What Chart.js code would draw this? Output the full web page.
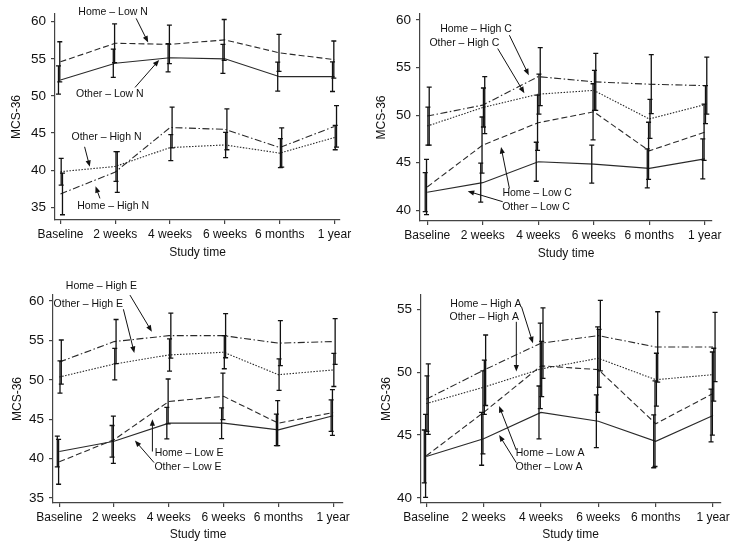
<!DOCTYPE html>
<html>
<head>
<meta charset="utf-8">
<script src="https://cdn.jsdelivr.net/npm/chart.js@4"></script>
<style>
  body { margin: 0; background: #fff; }
  #wrap { position: relative; width: 733px; height: 544px; }
  canvas { position: absolute; }
</style>
</head>
<body>
<div id="wrap">
  <canvas id="panelN" width="366" height="272" style="left:0;top:0"></canvas>
  <canvas id="panelC" width="367" height="272" style="left:366px;top:0"></canvas>
  <canvas id="panelE" width="366" height="272" style="left:0;top:272px"></canvas>
  <canvas id="panelA" width="367" height="272" style="left:366px;top:272px"></canvas>
</div>
<script>
// time points on the x axis
const timePoints = ['Baseline', '2 weeks', '4 weeks', '6 weeks', '6 months', '1 year'];

// y tick labels for each panel
const ticksN = [35, 40, 45, 50, 55, 60];
const ticksC = [40, 45, 50, 55, 60];
const ticksE = [35, 40, 45, 50, 55, 60];
const ticksA = [40, 45, 50, 55];

// N panel (means and half error bars)
const homeLowN = [54.6, 57.1, 56.95, 57.55, 55.8, 54.9];
const errHomeLowN = [2.7, 2.6, 2.6, 2.75, 2.5, 2.5];
const otherLowN = [52.15, 54.4, 55.15, 55.0, 52.6, 52.6];
const errOtherLowN = [1.9, 1.9, 1.9, 1.95, 1.95, 2.0];
const otherHighN = [39.8, 40.5, 43.05, 43.4, 42.3, 44.4];
const errOtherHighN = [1.8, 2.0, 1.75, 1.7, 1.95, 1.65];
const homeHighN = [36.8, 39.75, 45.75, 45.5, 43.05, 45.9];
const errHomeHighN = [2.8, 2.75, 2.75, 2.75, 2.65, 2.8];

// C panel
const homeHighC = [49.9, 51.05, 54.05, 53.5, 53.25, 53.1];
const errHomeHighC = [3.05, 3.0, 3.05, 3.0, 3.1, 3.0];
const otherHighC = [48.85, 50.8, 52.2, 52.6, 49.6, 51.1];
const errOtherHighC = [2.0, 2.05, 2.1, 2.1, 2.05, 2.0];
const homeLowC = [42.45, 46.85, 49.2, 50.35, 46.25, 48.2];
const errHomeLowC = [2.9, 2.95, 2.9, 2.95, 3.0, 2.95];
const otherLowC = [41.9, 42.9, 45.1, 44.85, 44.4, 45.4];
const errOtherLowC = [2.05, 2.05, 2.05, 2.0, 2.05, 2.1];

// E panel
const homeHighE = [52.25, 54.85, 55.6, 55.6, 54.65, 54.85];
const errHomeHighE = [2.8, 2.8, 2.85, 2.8, 2.85, 2.9];
const otherHighE = [50.35, 52.0, 53.15, 53.5, 50.65, 51.25];
const errOtherHighE = [2.05, 2.0, 2.05, 2.1, 2.0, 2.1];
const homeLowE = [39.6, 42.4, 47.25, 47.9, 44.5, 45.85];
const errHomeLowE = [2.85, 3.0, 2.85, 2.95, 2.85, 2.9];
const otherLowE = [40.9, 42.2, 44.5, 44.5, 43.65, 45.45];
const errOtherLowE = [1.95, 2.0, 2.0, 1.95, 2.0, 2.0];

// A panel
const homeHighA = [47.85, 50.15, 52.3, 52.9, 52.0, 52.0];
const errHomeHighA = [2.8, 2.8, 2.8, 2.8, 2.8, 2.75];
const otherHighA = [47.5, 48.8, 50.25, 51.1, 49.4, 49.8];
const errOtherHighA = [2.2, 2.15, 2.2, 2.3, 2.1, 2.1];
const homeLowA = [43.35, 46.8, 50.5, 50.2, 45.9, 48.3];
const errHomeLowA = [3.3, 3.3, 3.4, 3.4, 3.4, 3.3];
const otherLowA = [43.3, 44.7, 46.8, 46.1, 44.5, 46.55];
const errOtherLowA = [2.1, 2.1, 2.1, 2.1, 2.1, 2.1];

const FONT = '"Liberation Sans", Arial, sans-serif';
const INK = '#111';

// line styles
const SOLID = { dash: [], shift: -2 };
const DASHED = { dash: [6, 3], shift: -0.7 };
const DOTTED = { dash: [1.5, 1.5], shift: 0.7 };
const DASHDOT = { dash: [7, 2.5, 1.5, 2.5], shift: 2 };

function series(label, values, errs, style) {
  return {
    label: label,
    data: values.map((v, i) => ({ x: i, y: v })),
    errors: errs,
    errShift: style.shift,
    borderColor: '#2a2a2a',
    borderWidth: 1.1,
    borderDash: style.dash,
    pointRadius: 0,
    tension: 0,
    fill: false
  };
}

// error bars drawn through the chart scales
const errorBars = {
  id: 'errorBars',
  afterDatasetsDraw(chart) {
    const { ctx, scales: { x, y } } = chart;
    ctx.save();
    ctx.strokeStyle = INK;
    ctx.lineWidth = 1.3;
    chart.data.datasets.forEach(ds => {
      ds.data.forEach((p, i) => {
        const e = ds.errors[i];
        const px = x.getPixelForValue(p.x) + ds.errShift;
        const top = y.getPixelForValue(p.y + e);
        const bot = y.getPixelForValue(p.y - e);
        ctx.beginPath();
        ctx.moveTo(px, top); ctx.lineTo(px, bot);
        ctx.moveTo(px - 2.5, top); ctx.lineTo(px + 2.5, top);
        ctx.moveTo(px - 2.5, bot); ctx.lineTo(px + 2.5, bot);
        ctx.stroke();
      });
    });
    ctx.restore();
  }
};

// labels with arrows, positioned in data units
const notes = {
  id: 'notes',
  afterDraw(chart, args, opts) {
    const { ctx, scales: { x, y } } = chart;
    ctx.save();
    ctx.font = '10.5px ' + FONT;
    ctx.fillStyle = INK;
    ctx.strokeStyle = INK;
    ctx.lineWidth = 1;
    ctx.textAlign = 'center';
    ctx.textBaseline = 'middle';
    (opts.items || []).forEach(n => {
      ctx.fillText(n.text, x.getPixelForValue(n.x), y.getPixelForValue(n.y));
      const x1 = x.getPixelForValue(n.from[0]), y1 = y.getPixelForValue(n.from[1]);
      const x2 = x.getPixelForValue(n.to[0]), y2 = y.getPixelForValue(n.to[1]);
      const a = Math.atan2(y2 - y1, x2 - x1);
      ctx.beginPath();
      ctx.moveTo(x1, y1);
      ctx.lineTo(x2 - 5 * Math.cos(a), y2 - 5 * Math.sin(a));
      ctx.stroke();
      ctx.beginPath();
      ctx.moveTo(x2, y2);
      ctx.lineTo(x2 - 6.5 * Math.cos(a) + 2.6 * Math.sin(a), y2 - 6.5 * Math.sin(a) - 2.6 * Math.cos(a));
      ctx.lineTo(x2 - 6.5 * Math.cos(a) - 2.6 * Math.sin(a), y2 - 6.5 * Math.sin(a) + 2.6 * Math.cos(a));
      ctx.closePath();
      ctx.fill();
    });
    ctx.restore();
  }
};

function makePanel(id, cfg) {
  new Chart(document.getElementById(id), {
    type: 'line',
    data: { datasets: cfg.datasets },
    plugins: [errorBars, notes],
    options: {
      responsive: false,
      animation: false,
      layout: { padding: cfg.padding },
      scales: {
        x: {
          type: 'linear',
          min: cfg.xRange[0],
          max: cfg.xRange[1],
          afterBuildTicks: s => { s.ticks = timePoints.map((t, i) => ({ value: i })); },
          afterFit: s => { s.height = cfg.xHeight; },
          ticks: {
            callback: v => timePoints[v],
            color: INK,
            font: { size: 12, family: FONT },
            padding: 3,
            maxRotation: 0,
            autoSkip: false
          },
          grid: { drawOnChartArea: false, tickLength: 4, color: '#444', lineWidth: 1.2 },
          border: { color: '#444', width: 1.2 },
          title: {
            display: true,
            text: 'Study time',
            color: INK,
            font: { size: 12, family: FONT },
            padding: { top: 0, bottom: cfg.xTitlePad }
          }
        },
        y: {
          min: cfg.yRange[0],
          max: cfg.yRange[1],
          afterBuildTicks: s => { s.ticks = cfg.yTicks.map(v => ({ value: v })); },
          afterFit: s => { s.width = cfg.yWidth; },
          ticks: { color: INK, font: { size: 13.5, family: FONT }, padding: 5 },
          grid: { drawOnChartArea: false, tickLength: 4, color: '#444', lineWidth: 1.2 },
          border: { color: '#444', width: 1.2 },
          title: {
            display: true,
            text: 'MCS-36',
            color: INK,
            font: { size: 12, family: FONT },
            padding: { top: cfg.yTitlePad, bottom: 0 }
          }
        }
      },
      plugins: {
        legend: { display: false },
        tooltip: { enabled: false },
        notes: { items: cfg.notes }
      }
    }
  });
}

makePanel('panelN', {
  padding: { left: 0, top: 14, right: 26, bottom: 0 },
  yWidth: 55, xHeight: 52,
  xRange: [-0.1, 5.1], yRange: [33.29, 61.04], yTicks: ticksN,
  xTitlePad: 11.8, yTitlePad: 9.5,
  datasets: [
    series('Home – Low N', homeLowN, errHomeLowN, DASHED),
    series('Other – Low N', otherLowN, errOtherLowN, SOLID),
    series('Other – High N', otherHighN, errOtherHighN, DOTTED),
    series('Home – High N', homeHighN, errHomeHighN, DASHDOT)
  ],
  notes: [
    { text: 'Home – Low N', x: 0.96, y: 61.35, from: [1.38, 60.45], to: [1.6, 57.2] },
    { text: 'Other – Low N', x: 0.9, y: 50.2, from: [1.36, 51.15], to: [1.8, 54.85] },
    { text: 'Other – High N', x: 0.84, y: 44.5, from: [0.44, 43.15], to: [0.535, 40.45] },
    { text: 'Home – High N', x: 0.96, y: 35.15, from: [0.72, 36.2], to: [0.64, 37.85] }
  ]
});

makePanel('panelC', {
  padding: { left: 0, top: 14, right: 21, bottom: 0 },
  yWidth: 54, xHeight: 51,
  xRange: [-0.13, 5.13], yRange: [38.87, 60.63], yTicks: ticksC,
  xTitlePad: 11.5, yTitlePad: 8.8,
  datasets: [
    series('Home – High C', homeHighC, errHomeHighC, DASHDOT),
    series('Other – High C', otherHighC, errOtherHighC, DOTTED),
    series('Home – Low C', homeLowC, errHomeLowC, DASHED),
    series('Other – Low C', otherLowC, errOtherLowC, SOLID)
  ],
  notes: [
    { text: 'Home – High C', x: 0.88, y: 59.0, from: [1.48, 58.4], to: [1.83, 54.2] },
    { text: 'Other – High C', x: 0.67, y: 57.55, from: [1.27, 57.0], to: [1.75, 52.3] },
    { text: 'Home – Low C', x: 1.98, y: 41.8, from: [1.48, 42.3], to: [1.33, 46.65] },
    { text: 'Other – Low C', x: 1.96, y: 40.35, from: [1.36, 40.9], to: [0.73, 42.0] }
  ]
});

makePanel('panelE', {
  padding: { left: 0, top: 23, right: 23, bottom: 0 },
  yWidth: 53, xHeight: 41,
  xRange: [-0.115, 5.18], yRange: [34.37, 60.76], yTicks: ticksE,
  xTitlePad: 1.8, yTitlePad: 10,
  datasets: [
    series('Home – High E', homeHighE, errHomeHighE, DASHDOT),
    series('Other – High E', otherHighE, errOtherHighE, DOTTED),
    series('Home – Low E', homeLowE, errHomeLowE, DASHED),
    series('Other – Low E', otherLowE, errOtherLowE, SOLID)
  ],
  notes: [
    { text: 'Home – High E', x: 0.77, y: 61.9, from: [1.29, 60.75], to: [1.69, 56.1] },
    { text: 'Other – High E', x: 0.53, y: 59.6, from: [1.17, 58.95], to: [1.37, 53.4] },
    { text: 'Home – Low E', x: 2.37, y: 40.7, from: [1.7, 40.9], to: [1.7, 45.0] },
    { text: 'Other – Low E', x: 2.35, y: 38.9, from: [1.73, 39.5], to: [1.38, 42.3] }
  ]
});

makePanel('panelA', {
  padding: { left: 0, top: 23, right: 11, bottom: 0 },
  yWidth: 55, xHeight: 41,
  xRange: [-0.092, 5.125], yRange: [39.6, 56.13], yTicks: ticksA,
  xTitlePad: 1.8, yTitlePad: 13,
  datasets: [
    series('Home – High A', homeHighA, errHomeHighA, DASHDOT),
    series('Other – High A', otherHighA, errOtherHighA, DOTTED),
    series('Home – Low A', homeLowA, errHomeLowA, DASHED),
    series('Other – Low A', otherLowA, errOtherLowA, SOLID)
  ],
  notes: [
    { text: 'Home – High A', x: 1.04, y: 55.4, from: [1.66, 55.2], to: [1.86, 52.3] },
    { text: 'Other – High A', x: 1.01, y: 54.4, from: [1.57, 54.0], to: [1.57, 50.05] },
    { text: 'Home – Low A', x: 2.16, y: 43.6, from: [1.57, 43.8], to: [1.27, 47.3] },
    { text: 'Other – Low A', x: 2.14, y: 42.45, from: [1.57, 42.8], to: [1.27, 45.0] }
  ]
});
</script>
</body>
</html>
